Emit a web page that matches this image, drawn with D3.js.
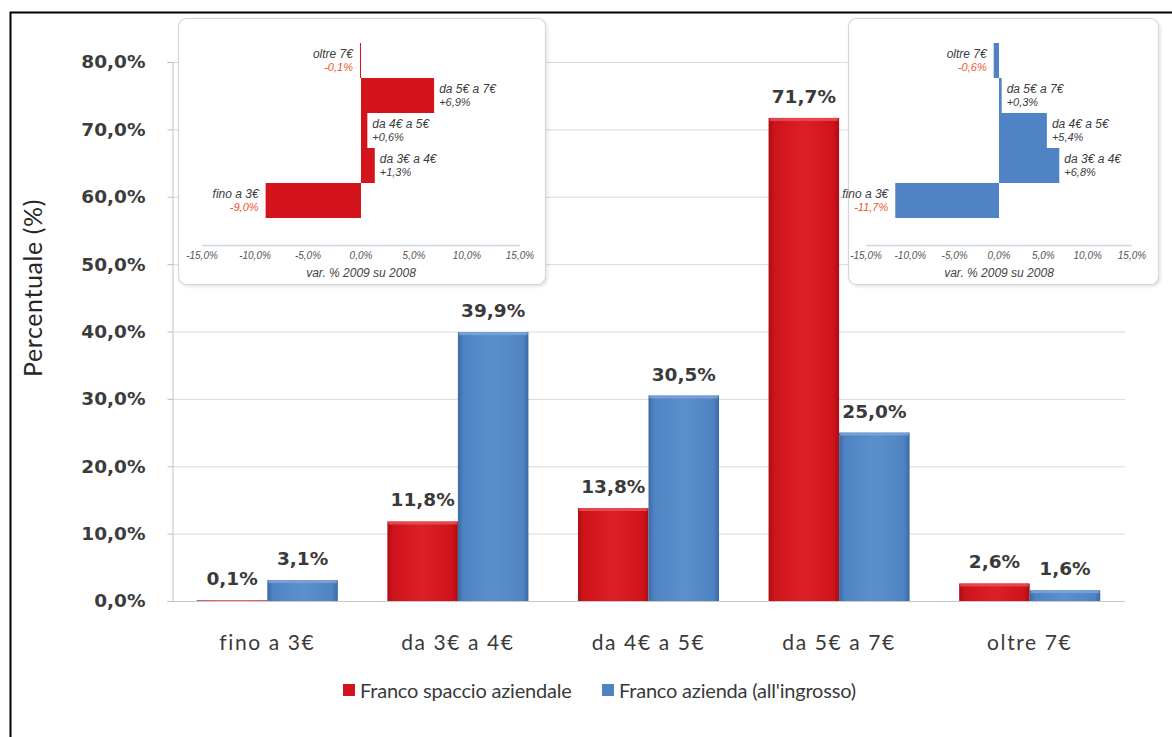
<!DOCTYPE html>
<html>
<head>
<meta charset="utf-8">
<script src="https://cdn.jsdelivr.net/npm/d3@7"></script>
<style>
  html, body { margin: 0; padding: 0; background: #ffffff; }
  svg { display: block; }
</style>
</head>
<body>
<svg id="chart" width="1172" height="737"></svg>
<script>
// Price bands (€/litre) and share of sales per distribution channel
const categories = ["fino a 3€", "da 3€ a 4€", "da 4€ a 5€", "da 5€ a 7€", "oltre 7€"];
const seriesNames = ["Franco spaccio aziendale", "Franco azienda (all'ingrosso)"];
const spaccioValues = [0.1, 11.8, 13.8, 71.7, 2.6];
const aziendaValues = [3.1, 39.9, 30.5, 25.0, 1.6];
const yTicks = [0, 10, 20, 30, 40, 50, 60, 70, 80];

// Change 2009 vs 2008 (percentage points), listed top to bottom in the small panels
const deltaCategories = ["oltre 7€", "da 5€ a 7€", "da 4€ a 5€", "da 3€ a 4€", "fino a 3€"];
const spaccioDelta = [-0.1, 6.9, 0.6, 1.3, -9.0];
const aziendaDelta = [-0.6, 0.3, 5.4, 6.8, -11.7];
const deltaTicks = [-15, -10, -5, 0, 5, 10, 15];
const deltaAxisTitle = "var. % 2009 su 2008";
const yTitle = "Percentuale (%)";

const RED = "#d3141c";
const BLUE = "#4f83c3";
const fmt = v => v.toFixed(1).replace(".", ",") + "%";
const fmtSigned = v => (v > 0 ? "+" : v < 0 ? "-" : "") + Math.abs(v).toFixed(1).replace(".", ",") + "%";

const svg = d3.select("#chart");

// gradients giving the bars a soft bevelled look
const defs = svg.append("defs");
function barGradient(id, dark, base, light) {
  const g = defs.append("linearGradient").attr("id", id)
    .attr("x1", "0%").attr("x2", "100%").attr("y1", "0%").attr("y2", "0%");
  [[0, dark], [0.08, base], [0.5, light], [0.92, base], [1, dark]].forEach(([o, c]) =>
    g.append("stop").attr("offset", o).attr("stop-color", c));
}
barGradient("gradRed", "#a80e14", "#cf131b", "#dc2028");
barGradient("gradBlue", "#3b6aa3", "#4f83c3", "#5b8fcd");
const shadow = defs.append("filter").attr("id", "boxShadow")
  .attr("x", "-5%").attr("y", "-5%").attr("width", "115%").attr("height", "115%");
shadow.append("feDropShadow").attr("dx", 1.5).attr("dy", 1.5).attr("stdDeviation", 1.5)
  .attr("flood-color", "#000").attr("flood-opacity", 0.12);

// outer frame
svg.append("path")
  .attr("d", "M10.5,737 L10.5,12.5 L1172,12.5")
  .attr("fill", "none").attr("stroke", "#000").attr("stroke-width", 2);

// ---------- main chart ----------
const plot = { left: 172, right: 1125, top: 62, bottom: 601 };
const x = d3.scaleBand().domain(categories).range([plot.left, plot.right])
  .paddingInner(0.26).paddingOuter(0.13);
const xs = d3.scaleBand().domain([0, 1]).range([0, x.bandwidth()]);
const y = d3.scaleLinear().domain([0, 80]).range([plot.bottom, plot.top]);

// horizontal gridlines
svg.append("g").selectAll("line").data(yTicks.filter(t => t > 0)).join("line")
  .attr("x1", plot.left).attr("x2", plot.right)
  .attr("y1", d => y(d) + 0.5).attr("y2", d => y(d) + 0.5)
  .attr("stroke", "#d9d9d9").attr("stroke-width", 1);

// y axis
const yAxis = svg.append("g").attr("transform", `translate(${plot.left + 0.5},0)`)
  .call(d3.axisLeft(y).tickValues(yTicks).tickFormat(d => d.toFixed(1).replace(".", ",") + "%")
    .tickSize(5).tickPadding(22));
yAxis.select(".domain").attr("stroke", "#bfbfbf");
yAxis.selectAll(".tick line").attr("stroke", "#bfbfbf");
yAxis.selectAll(".tick text")
  .attr("font-family", "DejaVu Sans, Verdana, sans-serif").attr("font-weight", "bold")
  .attr("font-size", 18.5).attr("fill", "#3c3c3c");

// baseline
svg.append("line").attr("x1", plot.left).attr("x2", plot.right)
  .attr("y1", plot.bottom + 0.5).attr("y2", plot.bottom + 0.5)
  .attr("stroke", "#c8c8c8").attr("stroke-width", 1);

// y title
svg.append("text").text(yTitle)
  .attr("transform", "translate(42,288) rotate(-90)")
  .attr("text-anchor", "middle")
  .attr("font-family", "Lato, sans-serif")
  .attr("font-size", 25).attr("letter-spacing", 0.6).attr("fill", "#262626");

// bars
const rows = categories.map((c, i) => ({ c, vals: [spaccioValues[i], aziendaValues[i]] }));
const series = [
  { key: 0, fill: "url(#gradRed)", top: "#e8555a" },
  { key: 1, fill: "url(#gradBlue)", top: "#7ea6d8" }
];
const barG = svg.append("g");
rows.forEach(r => {
  series.forEach(s => {
    const v = r.vals[s.key];
    const bx = x(r.c) + xs(s.key);
    const bw = xs.bandwidth();
    const by = y(v);
    const bh = y(0) - y(v);
    barG.append("rect").attr("x", bx).attr("y", by).attr("width", bw).attr("height", bh)
      .attr("fill", s.fill);
    if (bh > 5) {
      barG.append("rect").attr("x", bx + 1).attr("y", by).attr("width", bw - 2).attr("height", 3)
        .attr("fill", s.top).attr("opacity", 0.8);
    }
    barG.append("text").text(fmt(v))
      .attr("x", bx + bw / 2).attr("y", by - 15)
      .attr("text-anchor", "middle")
      .attr("font-family", "DejaVu Sans, Verdana, sans-serif").attr("font-weight", "bold")
      .attr("font-size", 18.5).attr("fill", "#3a3a3a");
  });
});

// category labels
svg.append("g").selectAll("text").data(categories).join("text")
  .text(d => d)
  .attr("x", d => x(d) + x.bandwidth() / 2).attr("y", 650)
  .attr("text-anchor", "middle")
  .attr("font-family", "Lato, sans-serif").attr("font-size", 21)
  .attr("letter-spacing", 1.6).attr("fill", "#3a3a3a");

// legend
const legend = [
  { name: seriesNames[0], color: RED, x: 343 },
  { name: seriesNames[1], color: BLUE, x: 602 }
];
const lg = svg.append("g");
legend.forEach(l => {
  lg.append("rect").attr("x", l.x).attr("y", 684).attr("width", 12).attr("height", 12)
    .attr("fill", l.color);
  lg.append("text").text(l.name).attr("x", l.x + 17).attr("y", 698)
    .attr("font-family", "Lato, sans-serif").attr("font-size", 20)
    .attr("letter-spacing", -0.2).attr("fill", "#3a3a3a");
});

// ---------- small panels: change 2009 vs 2008 ----------
function deltaPanel(box, range, values, color) {
  const g = svg.append("g");
  g.append("rect").attr("x", box.x + 0.5).attr("y", box.y + 0.5)
    .attr("width", box.w).attr("height", box.h).attr("rx", 8)
    .attr("fill", "#fff").attr("stroke", "#d6d6d6").attr("stroke-width", 1.2)
    .attr("filter", "url(#boxShadow)");

  const hx = d3.scaleLinear().domain([-15, 15]).range(range);
  const hy = d3.scaleBand().domain(deltaCategories).range([43, 218]).padding(0);

  // axis line + tick labels
  g.append("line").attr("x1", range[0]).attr("x2", range[1])
    .attr("y1", 245.5).attr("y2", 245.5).attr("stroke", "#cdd8e6").attr("stroke-width", 1.5);
  g.selectAll(".tk").data(deltaTicks).join("text").attr("class", "tk")
    .text(d => fmtSigned(d).replace("+", ""))
    .attr("x", d => hx(d)).attr("y", 259).attr("text-anchor", "middle")
    .attr("font-family", "Liberation Sans Narrow, Arial Narrow, sans-serif")
    .attr("font-style", "italic").attr("font-size", 10).attr("fill", "#555");
  g.append("text").text(deltaAxisTitle)
    .attr("x", hx(0)).attr("y", 277).attr("text-anchor", "middle")
    .attr("font-family", "Liberation Sans Narrow, Arial Narrow, sans-serif")
    .attr("font-style", "italic").attr("font-size", 12).attr("fill", "#444");

  deltaCategories.forEach((c, i) => {
    const v = values[i];
    const x0 = hx(Math.min(0, v)), x1 = hx(Math.max(0, v));
    g.append("rect").attr("x", x0).attr("y", hy(c)).attr("width", Math.max(1, x1 - x0))
      .attr("height", hy.bandwidth()).attr("fill", color);
    const cy = hy(c) + hy.bandwidth() / 2;
    const neg = v < 0;
    const lx = neg ? hx(v) - 7 : hx(v) + 5;
    const anchor = neg ? "end" : "start";
    g.append("text").text(c).attr("x", lx).attr("y", cy - 3)
      .attr("text-anchor", anchor)
      .attr("font-family", "Liberation Sans Narrow, Arial Narrow, sans-serif")
      .attr("font-style", "italic").attr("font-size", 12).attr("fill", "#3c3c3c");
    g.append("text").text(fmtSigned(v)).attr("x", lx).attr("y", cy + 10)
      .attr("text-anchor", anchor)
      .attr("font-family", "Liberation Sans Narrow, Arial Narrow, sans-serif")
      .attr("font-style", "italic").attr("font-size", 11)
      .attr("fill", neg ? "#f0552a" : "#3c3c3c");
  });
}

deltaPanel({ x: 178, y: 18, w: 367, h: 266 }, [202, 520], spaccioDelta, RED);
deltaPanel({ x: 848, y: 18, w: 310, h: 266 }, [866, 1132], aziendaDelta, BLUE);
</script>
</body>
</html>
